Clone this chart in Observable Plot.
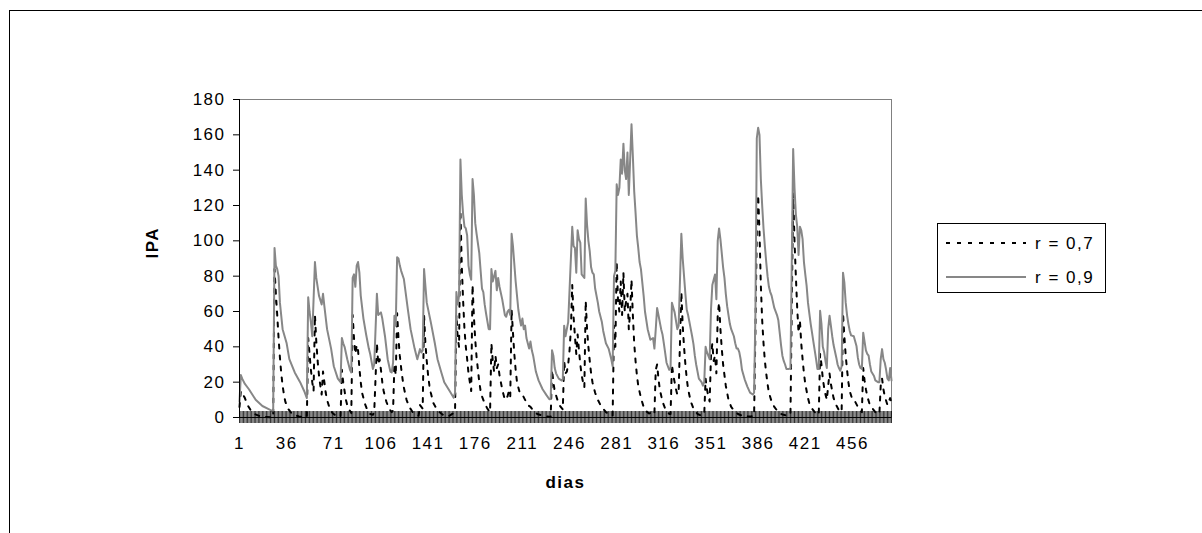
<!DOCTYPE html>
<html>
<head>
<meta charset="utf-8">
<script src="https://cdn.jsdelivr.net/npm/d3@7"></script>
<script src="https://cdn.jsdelivr.net/npm/@observablehq/plot@0.6"></script>
<style>
  body { margin: 0; background: #fff; font-family: Arial, "Liberation Sans", sans-serif; }
  #wrap { position: relative; width: 1202px; height: 533px; overflow: hidden; }
  #outer { position: absolute; left: 9px; top: 10px; width: 1300px; height: 700px; border-left: 1px solid #000; border-top: 1px solid #000; }
  #chart { position: absolute; left: 0; top: 0; }
  #legend { position: absolute; left: 937px; top: 223px; width: 167px; height: 68px; border: 1px solid #000; background: #fff; }
  svg text { letter-spacing: 1.5px; }
</style>
</head>
<body>
<div id="wrap">
  <div id="outer"></div>
  <div id="chart"></div>
  <div id="legend"></div>
</div>
<script>
// ---- data ----
const seriesNames = ["r = 0,7", "r = 0,9"];
const yTicks = [0, 20, 40, 60, 80, 100, 120, 140, 160, 180];
const xTickLabels = [1, 36, 71, 106, 141, 176, 211, 246, 281, 316, 351, 386, 421, 456];
const lastDay = 485;

// r = 0,7 : [dia, IPA]
const serieR07 = [
[1,6],[2,15],[3,14],[5,11],[7,7],[9,4.5],[12,2],[16,0.8],[20,0.3],[26,0.1],
[27,84],[28,70],[29,58],[30,45],[31,34],[32,25],[33,18],[34,13],[35,9],[37,5],[40,2],[45,0.6],[51,0.2],
[52,45],[53,36],[54,27],[55,20],[56,15],[57,58],[58,43],[59,32],[60,24],[61,18],[62,13],[63,26],[64,20],[65,14],[66,10],[68,5],[70,2.5],[72,1.3],[76,0.4],
[77,27],[78,20],[79,15],[80,10],[81,7],[82,5],[84,2.5],[85,58],[86,45],[87,36],[88,41],[89,38],[90,28],[91,20],[92,14],[94,8],[96,4],[98,2],[100,1.5],[101,3],
[103,42],[104,30],[105,33],[106,27],[107,20],[108,15],[110,9],[112,5],[114,3],[115,4],[116,30],[117,24],[118,59],[119,45],[120,35],[121,28],[122,22],[123,17],[125,10],[127,6],[130,2.5],[134,1],
[135,7],[136,6],[137,5],[138,58],[139,42],[140,32],[141,24],[142,18],[143,14],[145,8],[148,4],[152,1.5],[156,0.6],[161,3],
[162,58],[163,45],[164,40],[165,117],[166,86],[167,66],[168,50],[169,40],[170,33],[171,25],[172,20],[173,15],[174,75],[175,57],[176,44],[177,34],[178,27],[179,20],[180,15],[181,12],[183,8],[185,5],[187,3],
[188,42],[189,32],[190,26],[191,35],[192,28],[193,30],[194,24],[196,16],[198,10],[200,12],[201,15],[202,12],[203,61],[204,48],[205,36],[206,27],[207,20],[209,14],[211,13],[213,10],[215,7],[217,6],[219,4],[222,2],[226,1],[232,0.3],
[233,27],[234,20],[235,15],[237,10],[239,6.5],[241,4.5],[242,32],[243,25],[244,26],[245,30],[246,38],[247,50],[248,75],[249,57],[250,46],[251,36],[252,47],[253,38],[254,30],[255,24],[256,20],[257,17],
[258,66],[259,50],[260,40],[261,32],[262,25],[263,20],[265,14],[267,10],[269,7],[271,5],[273,3],[275,2],[278,1],
[279,52],[280,40],[281,88],[282,66],[283,60],[284,77],[285,58],[286,82],[287,60],[288,66],[289,70],[290,50],[291,60],[292,78],[293,58],[294,42],[295,32],[296,24],[297,18],[299,11],[301,6],[303,3.5],[305,2.3],[308,3],[309,2],
[310,27],[311,30],[312,22],[313,16],[315,9],[317,5],[320,2],[321,2],[322,30],[323,24],[324,20],[325,16],[326,13],[327,15],[329,71],[330,52],[331,40],[332,30],[333,22],[334,16],[336,9],[338,5],[341,2],[344,1],[346,2],
[347,22],[348,16],[349,12],[350,9],[351,35],[352,42],[353,32],[354,35],[355,25],[356,58],[357,65],[358,50],[359,39],[360,30],[361,24],[362,18],[364,10],[366,6],[368,4],[371,2],[374,1],[380,0.5],[383,1],
[384,50],[385,105],[386,126],[387,105],[388,75],[389,55],[390,42],[391,32],[392,25],[393,19],[394,14],[396,9],[398,6],[400,4],[403,2],[405,1.5],[408,1],[410,2],
[411,65],[412,127],[413,100],[414,80],[415,62],[416,48],[417,55],[418,42],[419,33],[420,25],[421,19],[422,15],[423,11],[424,8],[426,5],[428,3],[430,2],[431,1.5],
[432,36],[433,30],[434,22],[435,17],[436,13],[437,10],[438,18],[439,25],[440,19],[441,15],[442,11],[444,7],[446,4],[447,3],[448,4],
[449,59],[450,46],[451,35],[452,27],[453,20],[454,15],[456,10],[458,9],[460,6],[462,4],[463,3],[464,28],[465,21],[466,16],[467,12],[469,7],[471,5],[473,3],[475,2],[476,2],
[477,18],[478,22],[479,16],[480,12],[482,7],[483,9],[484,11],[485,8]
];

// r = 0,9 : [dia, IPA]
const serieR09 = [
[1,9],[2,24],[3,22],[5,19],[8,16],[13,10],[18,6.5],[23,4.6],[26,3.5],
[27,96],[28,86],[29,84],[30,80],[31,65],[33,50],[36,42],[38,33],[42,25.5],[46,20],[49,15],[51,11],
[52,68],[53,60],[54,54],[55,46],[57,88],[58,79],[60,69],[62,64],[63,70],[64,63],[66,50],[69,39],[71,29],[74,22],[76,20],
[77,45],[78,42],[79,40],[81,33],[83,27],[84,25.5],[85,79],[86,81],[87,74],[88,86],[89,88],[90,82],[91,69],[93,56],[95,47],[97,39],[98,36],[100,27.5],[101,30],
[103,70],[104,58],[106,59.5],[107,56],[109,46],[111,33],[113,26],[114,25.5],[115,31],[116,57.6],[117,52],[118,90.7],[119,90],[120,86],[121,83],[123,78.4],[126,61],[128,50],[131,39],[133,33],
[135,38.7],[136,36.8],[137,38],[138,84],[139,74.5],[140,65],[143,54],[146,42],[148,33],[151,25],[153,20],[157,15],[160,11.2],[161,14],
[162,71],[163,64],[164,69],[165,146],[166,126],[167,115],[168,108],[169,107],[170,103],[171,86],[172,81],[173,78],[174,135],[175,126],[176,110],[177,104],[179,93],[181,73],[182,71],[183,64],[184,59],[186,50],[187,50],
[188,84],[189,77],[190,80],[191,83],[192,72],[193,79],[194,74],[196,67],[198,58],[199,57],[200,60],[201,61],[202,58],[203,104],[204,97],[206,77],[208,61],[209,56],[210,52],[211,56],[212,50],[213,52],[214,45],[215,42],[216,39],[217,43],[218,38],[219,35],[221,26],[223,21],[226,16],[229,12.5],[231,10.3],[232,10.5],
[233,38],[234,35],[235,28],[236,25],[238,22],[240,21],[241,21.6],[242,52],[243,46],[244,50],[245,54],[246,72],[247,90],[248,108],[249,97],[250,96],[251,82],[252,106],[253,101],[254,99],[255,81],[256,80],[257,79],
[258,124],[259,109],[260,100],[261,94],[262,85],[263,82],[264,81],[265,73],[267,65],[268,60],[270,54],[271,49],[273,42],[275,39],[277,33],[278,29],
[279,80],[280,83],[281,132],[282,126],[283,130],[284,146],[285,138],[286,155],[287,140],[288,135],[289,150],[290,126],[291,146],[292,166],[293,148],[294,128],[295,116],[296,103],[297,96],[298,88],[299,84],[301,69],[302,60],[304,50],[306,44],[308,45],[309,39],
[310,50],[311,62],[312,58],[313,54],[314,50],[315,47],[316,42],[318,31],[320,27],[321,28],[322,65],[324,59.5],[326,50],[327,52],[329,104],[330,90],[331,80],[332,70],[333,61],[334,58],[336,50],[337,46],[338,41.5],[339,35],[340,30],[342,22],[344,20],[345,18],[346,20],
[347,40],[348,37],[349,35],[350,33],[351,61],[352,75],[354,81],[355,67],[356,100],[357,107],[358,101],[359,93],[360,85],[361,79],[362,70],[363,63],[364,58],[365,53],[366,50],[368,46],[369,42],[370,39],[371,39],[372,37],[373,33],[374,27],[376,21.6],[378,17.5],[380,14.1],[382,13],[383,14],
[384,60],[385,158],[386,164],[387,160],[388,135],[389,120],[390,107],[391,97],[392,88],[393,80],[394,74],[395,71],[396,69],[398,62],[400,58],[401,55],[402,48],[403,41],[404,35],[405,32],[406,30],[407,27.5],[409,27.5],[410,28],
[411,90],[412,152],[413,130],[414,115],[415,108],[416,92],[417,108],[418,106],[419,101],[420,88],[421,81],[422,74.5],[423,65],[424,59],[425,53],[426,48],[427,43],[428,38],[429,33],[430,27.5],[431,27.5],
[432,60.4],[433,53],[434,40],[435,37],[436,32],[437,28],[438,50],[439,57.6],[440,52],[441,46],[442,41],[444,34],[445,30],[446,28],[447,26.5],[448,29],
[449,82],[450,76.5],[451,65],[452,58],[453,53],[454,49],[455,46.5],[457,46],[459,40.5],[460,34],[461,30],[462,28],[463,27.5],[464,48],[465,43],[466,38],[467,36],[468,35],[469,30],[470,26],[472,23.5],[473,21],[475,20],[476,20],
[477,33],[478,38.7],[479,33],[480,31],[481,27],[482,22],[483,21],[484,28],[485,21]
];

// ---- styles ----
const font = 'Arial, "Liberation Sans", sans-serif';
const colR07 = "#000000";
const colR09 = "#878787";
const dashR07 = "4,7";
const fs = 17;

const dias = d3.range(1, lastDay + 1);

const chart = Plot.plot({
  width: 1202,
  height: 533,
  marginLeft: 239,
  marginRight: 311,
  marginTop: 99,
  marginBottom: 116,
  x: {domain: [1, lastDay]},
  y: {domain: [0, 180]},
  style: {fontFamily: font, fontSize: fs + "px", color: "#000", background: "transparent", overflow: "visible"},
  marks: [
    Plot.frame({stroke: "#808080"}),
    Plot.line(serieR07, {x: d => d[0], y: d => d[1], stroke: colR07, strokeWidth: 2, strokeDasharray: dashR07}),
    Plot.line(serieR09, {x: d => d[0], y: d => d[1], stroke: colR09, strokeWidth: 2}),
    Plot.ruleX([1], {stroke: "#000"}),
    Plot.ruleY([0], {stroke: "#000"}),
    Plot.axisX(dias, {tickSize: 6, tickFormat: () => "", label: null, stroke: "#000", strokeOpacity: 0.8}),
    Plot.axisX(dias, {tickSize: -6, tickFormat: () => "", label: null, stroke: "#000", strokeOpacity: 0.8}),
    Plot.axisX(xTickLabels, {tickSize: 0, tickPadding: 19, label: null, fontSize: fs}),
    Plot.axisY(yTicks, {tickSize: 6, tickPadding: 8, label: null, fontSize: fs, stroke: "#000"}),
    Plot.text(["IPA"], {frameAnchor: "left", dx: -87, rotate: -90, fontWeight: "bold", fontSize: fs}),
    Plot.text(["dias"], {frameAnchor: "bottom", dy: 70, fontWeight: "bold", fontSize: fs})
  ]
});
document.getElementById("chart").appendChild(chart);

// ---- legend ----
const lg = d3.select("#legend").append("svg").attr("width", 167).attr("height", 68)
  .style("font-family", font).style("font-size", fs + "px");
const rows = [
  {name: seriesNames[0], stroke: colR07, dash: dashR07, w: 2, y: 19},
  {name: seriesNames[1], stroke: colR09, dash: null, w: 2, y: 53}
];
rows.forEach(r => {
  lg.append("line").attr("x1", 8).attr("x2", 88).attr("y1", r.y).attr("y2", r.y)
    .attr("stroke", r.stroke).attr("stroke-width", r.w).attr("stroke-dasharray", r.dash);
  lg.append("text").attr("x", 97).attr("y", r.y).attr("dy", "0.35em").attr("fill", "#000").text(r.name);
});
</script>
</body>
</html>
